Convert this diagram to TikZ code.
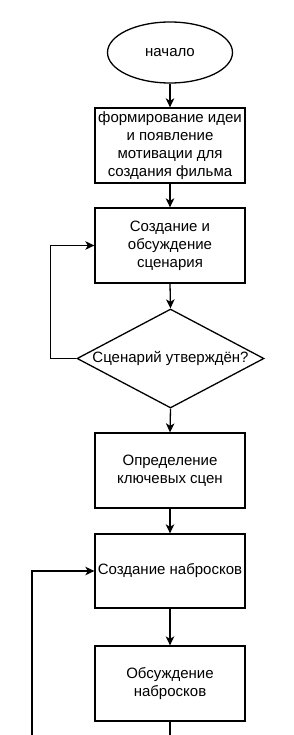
\documentclass[tikz,border=0pt]{standalone}
\usepackage{fontspec}
\setmainfont{Liberation Sans}
\usetikzlibrary{shapes.geometric,arrows.meta}
\begin{document}
\begin{tikzpicture}[x=1pt,y=-1pt,
  every node/.style={font=\fontsize{15}{18}\selectfont, text=black},
  boxst/.style={draw=black, line width=1.3pt, minimum width=150pt, minimum height=75pt, inner sep=0pt, align=center},
  arr/.style={draw=black, line width=1.3pt, -{Stealth[length=9pt,width=8.5pt,inset=2.5pt]}},
  ln/.style={draw=black, line width=1.3pt}]
\useasboundingbox (0,0) rectangle (293,735);
\node[draw=black, line width=1.3pt, ellipse, minimum width=125pt, minimum height=61pt, inner sep=0pt] (start) at (170,52.5) {начало};
\node[boxst] (b1) at (170,145.5) {формирование идеи\\и появление\\мотивации для\\создания фильма};
\node[boxst] (b2) at (170,245.5) {Создание и\\обсуждение\\сценария};
\node[draw=black, line width=1.3pt, diamond, minimum width=187pt, minimum height=99pt, inner sep=0pt] (d) at (170.5,358.5) {};
\node (dt) at (d.center) {Сценарий утверждён?};
\node[boxst] (b3) at (170,470.5) {Определение\\ключевых сцен};
\node[boxst, minimum height=74pt] (b4) at (170,571) {Создание набросков};
\node[boxst] (b5) at (170,683.5) {Обсуждение\\набросков};
\coordinate (l2) at (32,736);
\coordinate (e5) at (170,736);
\draw[arr] (start.south) -- (b1.north);
\draw[arr] (b1.south) -- (b2.north);
\draw[arr] (b2.south) -- (d.north);
\draw[arr] (d.south) -- (b3.north);
\draw[arr] (b3.south) -- (b4.north);
\draw[arr] (b4.south) -- (b5.north);
\draw[arr] (d.west) -- ++(-26,0) |- (b2.west);
\draw[arr] (l2) |- (b4.west);
\draw[ln] (b5.south) -- (e5);
\end{tikzpicture}
\end{document}
